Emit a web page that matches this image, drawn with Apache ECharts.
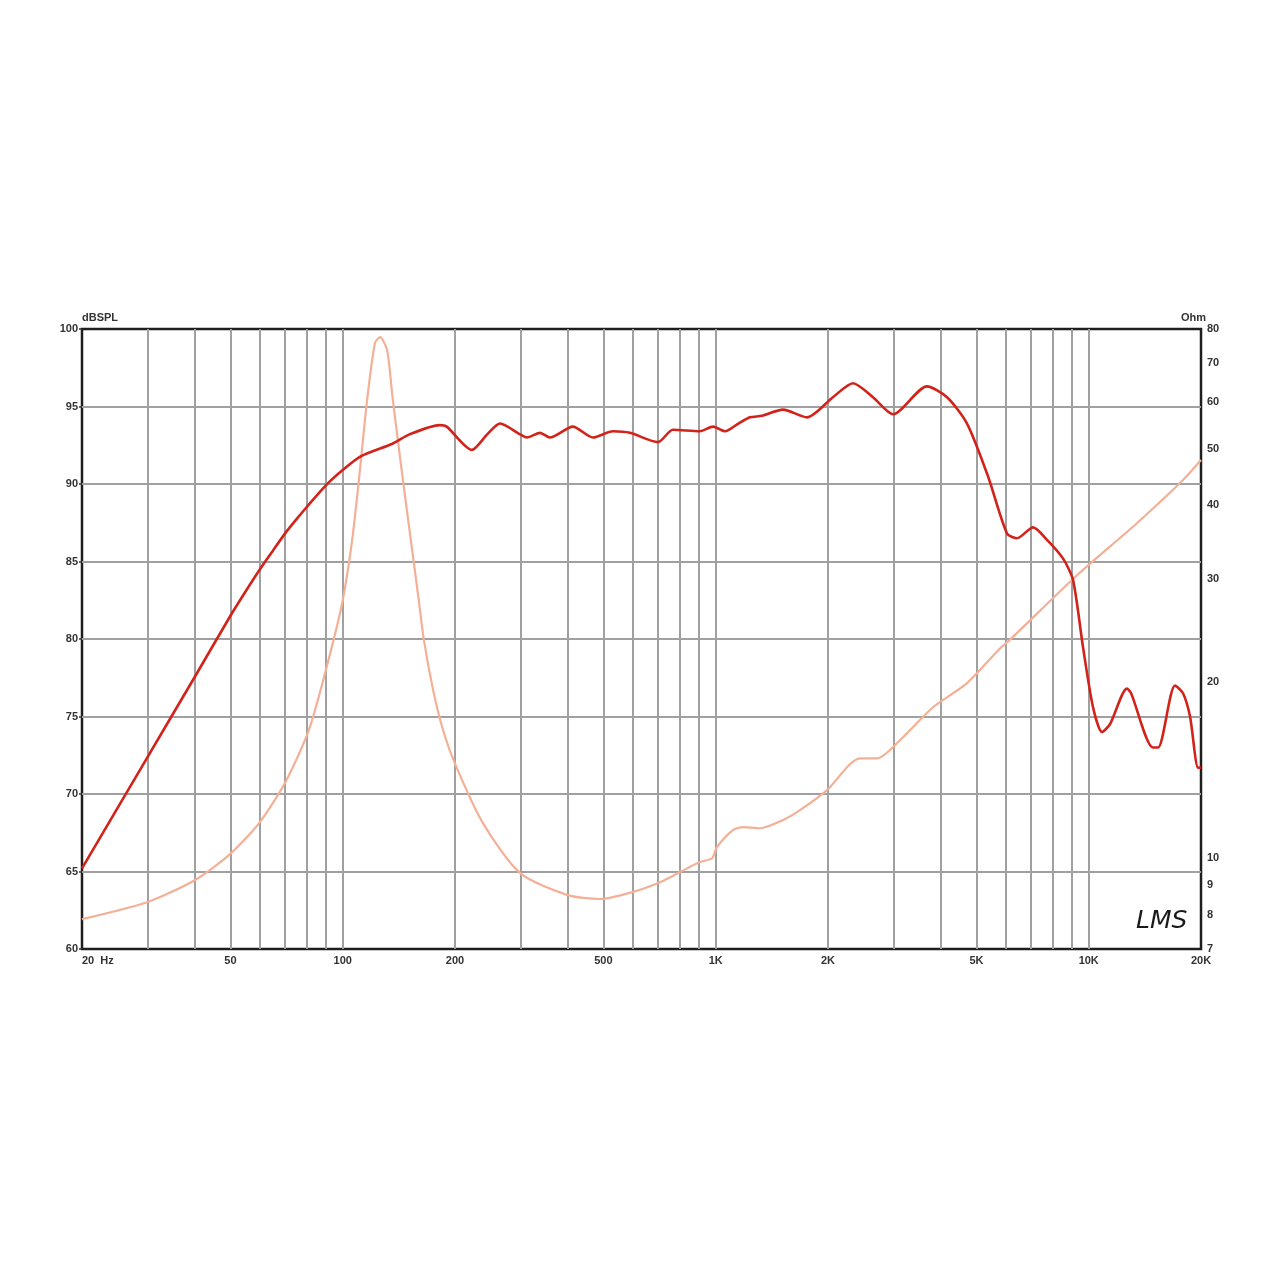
<!DOCTYPE html>
<html><head><meta charset="utf-8">
<script src="https://cdn.jsdelivr.net/npm/echarts@6/dist/echarts.min.js"></script>
<style>html,body{margin:0;padding:0;background:#fff}#c{width:1280px;height:1280px}</style>
</head><body><div id="c"></div>
<script>
// SPL response (Hz, dB)
const splFreq = [20,30,40,50,55,60,65,70,75,80,90,100,112,136,151,182,190,222,244,264,299,312,338,359,414,469,530,589,700,768,907,984,1059,1150,1236,1330,1515,1756,2062,2334,2640,2988,3683,4170,4718,5370,6040,6423,7092,7730,8530,9078,9650,10270,10856,11400,12660,12990,14860,15350,17030,17900,18690,19640,20000];
const splDb   = [65.2,72.4,77.5,81.5,83.1,84.5,85.7,86.8,87.7,88.5,89.9,90.9,91.8,92.6,93.2,93.8,93.7,92.2,93.2,93.9,93.2,93.0,93.3,93.0,93.7,93.0,93.4,93.3,92.7,93.5,93.4,93.7,93.4,93.9,94.3,94.4,94.8,94.3,95.6,96.5,95.6,94.5,96.3,95.6,93.9,90.5,86.8,86.5,87.2,86.4,85.2,83.8,79.5,75.6,74.0,74.5,76.8,76.5,73.0,73.0,77.0,76.5,75.0,71.7,71.7];
// Impedance (Hz, Ohm)
const impFreq = [20,30,40.2,49.6,59.7,70,81,89.7,99.6,106,111,116,122,125.9,131.5,136,145,160,165,174.6,185,200,237.6,299,399,489,600,709,802,907,978,1008,1112,1183,1315,1515,1682,1988,2436,2706,3120,3824,4718,5780,6152,9305,13460,17900,20000];
const impOhm  = [7.87,8.42,9.18,10.13,11.48,13.44,16.5,20.7,27.2,34.9,45.4,59.8,75.7,77.5,73.7,61.2,44.2,27.5,23.6,19.4,16.7,14.5,11.48,9.43,8.66,8.52,8.76,9.1,9.47,9.85,10.0,10.45,11.17,11.3,11.25,11.62,12.08,13.07,14.8,14.8,15.9,18.1,19.9,22.8,23.6,30.4,37.3,44.2,47.8];
// Axis ticks
const freqGridLines = [30,40,50,60,70,80,90,100,200,300,400,500,600,700,800,900,1000,2000,3000,4000,5000,6000,7000,8000,9000,10000];
const freqLabels = [20,50,100,200,500,1000,2000,5000,10000,20000];
const ohmLabels = [7,8,9,10,20,30,40,50,60,70,80];
const dbMin = 60, dbMax = 100, dbStep = 5;

const lg = Math.log10;
const labelStyle = {color:'#333', fontSize:11, fontWeight:'bold', fontFamily:'Liberation Sans, Arial, sans-serif'};

const chart = echarts.init(document.getElementById('c'));
chart.setOption({
  backgroundColor:'#fff',
  animation:false,
  grid:{left:82, right:79, top:329, bottom:331, show:true, borderColor:'#1e1e1e', borderWidth:2.5, backgroundColor:'#fff'},
  xAxis:{
    type:'value', min:lg(20), max:lg(20000),
    axisLine:{show:false},
    axisTick:{show:false, customValues:freqGridLines.map(lg)},
    splitLine:{show:true, lineStyle:{color:'#a0a0a0', width:2}},
    axisLabel:Object.assign({
      customValues:freqLabels.map(lg),
      margin:6,
      alignMinLabel:'left',
      formatter:function(v){
        const f = Math.round(Math.pow(10,v));
        if (f===20) return '20  Hz';
        if (f>=1000) return (f/1000)+'K';
        return String(f);
      }
    }, labelStyle)
  },
  yAxis:[{
    type:'value', min:dbMin, max:dbMax, interval:dbStep, position:'left',
    name:'dBSPL', nameLocation:'end', nameGap:5,
    nameTextStyle:Object.assign({align:'left', padding:[0,0,0,0]}, labelStyle),
    axisLine:{show:false},
    axisTick:{show:true, length:3, lineStyle:{color:'#333', width:1.5}},
    splitLine:{show:true, showMinLine:false, showMaxLine:false, lineStyle:{color:'#a0a0a0', width:2}},
    axisLabel:Object.assign({margin:4}, labelStyle)
  },{
    type:'value', min:lg(7), max:lg(80), position:'right',
    name:'Ohm', nameLocation:'end', nameGap:5,
    nameTextStyle:Object.assign({align:'right', padding:[0,-5,0,0]}, labelStyle),
    axisLine:{show:false},
    axisTick:{show:false},
    splitLine:{show:false},
    axisLabel:Object.assign({
      customValues:ohmLabels.map(lg), margin:6,
      formatter:function(v){ return String(Math.round(Math.pow(10,v))); }
    }, labelStyle)
  }],
  graphic:[{
    type:'text', left:1136, top:909,
    style:{text:'LMS', font:'italic 25px "DejaVu Sans", sans-serif', fill:'#1a1a1a'}
  }],
  series:[{
    type:'line', name:'Impedance', yAxisIndex:1, showSymbol:false, smooth:0.25,
    lineStyle:{color:'#f4b096', width:2.2},
    data:impFreq.map((f,i)=>[lg(f), lg(impOhm[i])]), z:3
  },{
    type:'line', name:'SPL', yAxisIndex:0, showSymbol:false, smooth:0.25,
    lineStyle:{color:'#d2231b', width:2.6},
    data:splFreq.map((f,i)=>[lg(f), splDb[i]]), z:4
  }]
});
</script>
</body></html>
